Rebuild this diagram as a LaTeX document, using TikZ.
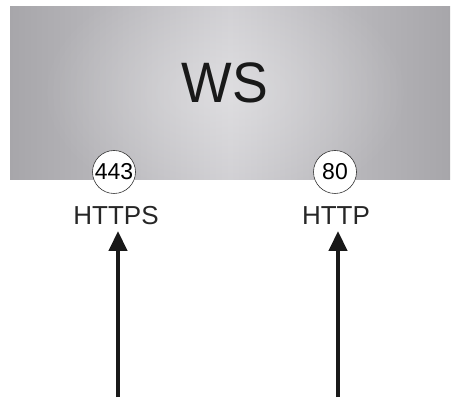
\documentclass[tikz,border=0pt]{standalone}
\usepackage{fontspec}
\setmainfont{Liberation Sans}
\usetikzlibrary{arrows.meta,fadings}
\definecolor{wsedge}{HTML}{A7A6AA}
\definecolor{wsmid}{HTML}{CDCCD0}
\tikzfading[name=softglow, inner color=transparent!0, outer color=transparent!100]
\begin{document}
\begin{tikzpicture}[x=1pt,y=1pt,
  port/.style={circle,draw=black!80,line width=0.6pt,fill=white,inner sep=0pt,minimum size=43pt,font=\fontsize{23}{23}\selectfont},
  proto/.style={inner sep=0pt,font=\fontsize{26}{26}\selectfont,text=black!85},
  flow/.style={line width=4.5pt,draw=black!90,-{Triangle[length=20pt,width=18pt]}}]
\useasboundingbox (0,0) rectangle (457,412);
\shade[left color=wsedge, right color=wsedge, middle color=wsmid] (10,232) rectangle (450,405);
\fill[white,fill opacity=0.35,path fading=softglow] (40,200) rectangle (410,440);
\node[inner sep=0pt,xscale=0.94,font=\fontsize{57}{57}\selectfont,text=black!90] (ws) at (225,329) {WS};
\node[port] (p443) at (114,240) {443};
\node[port] (p80) at (335,240) {80};
\node[proto,anchor=base] (https) at (116,187) {HTTPS};
\node[proto,anchor=base] (http) at (336,187) {HTTP};
\coordinate (s1) at (118,15);
\coordinate (t1) at (118,181);
\coordinate (s2) at (338,15);
\coordinate (t2) at (338,181);
\draw[flow] (s1) -- (t1);
\draw[flow] (s2) -- (t2);
\end{tikzpicture}
\end{document}
